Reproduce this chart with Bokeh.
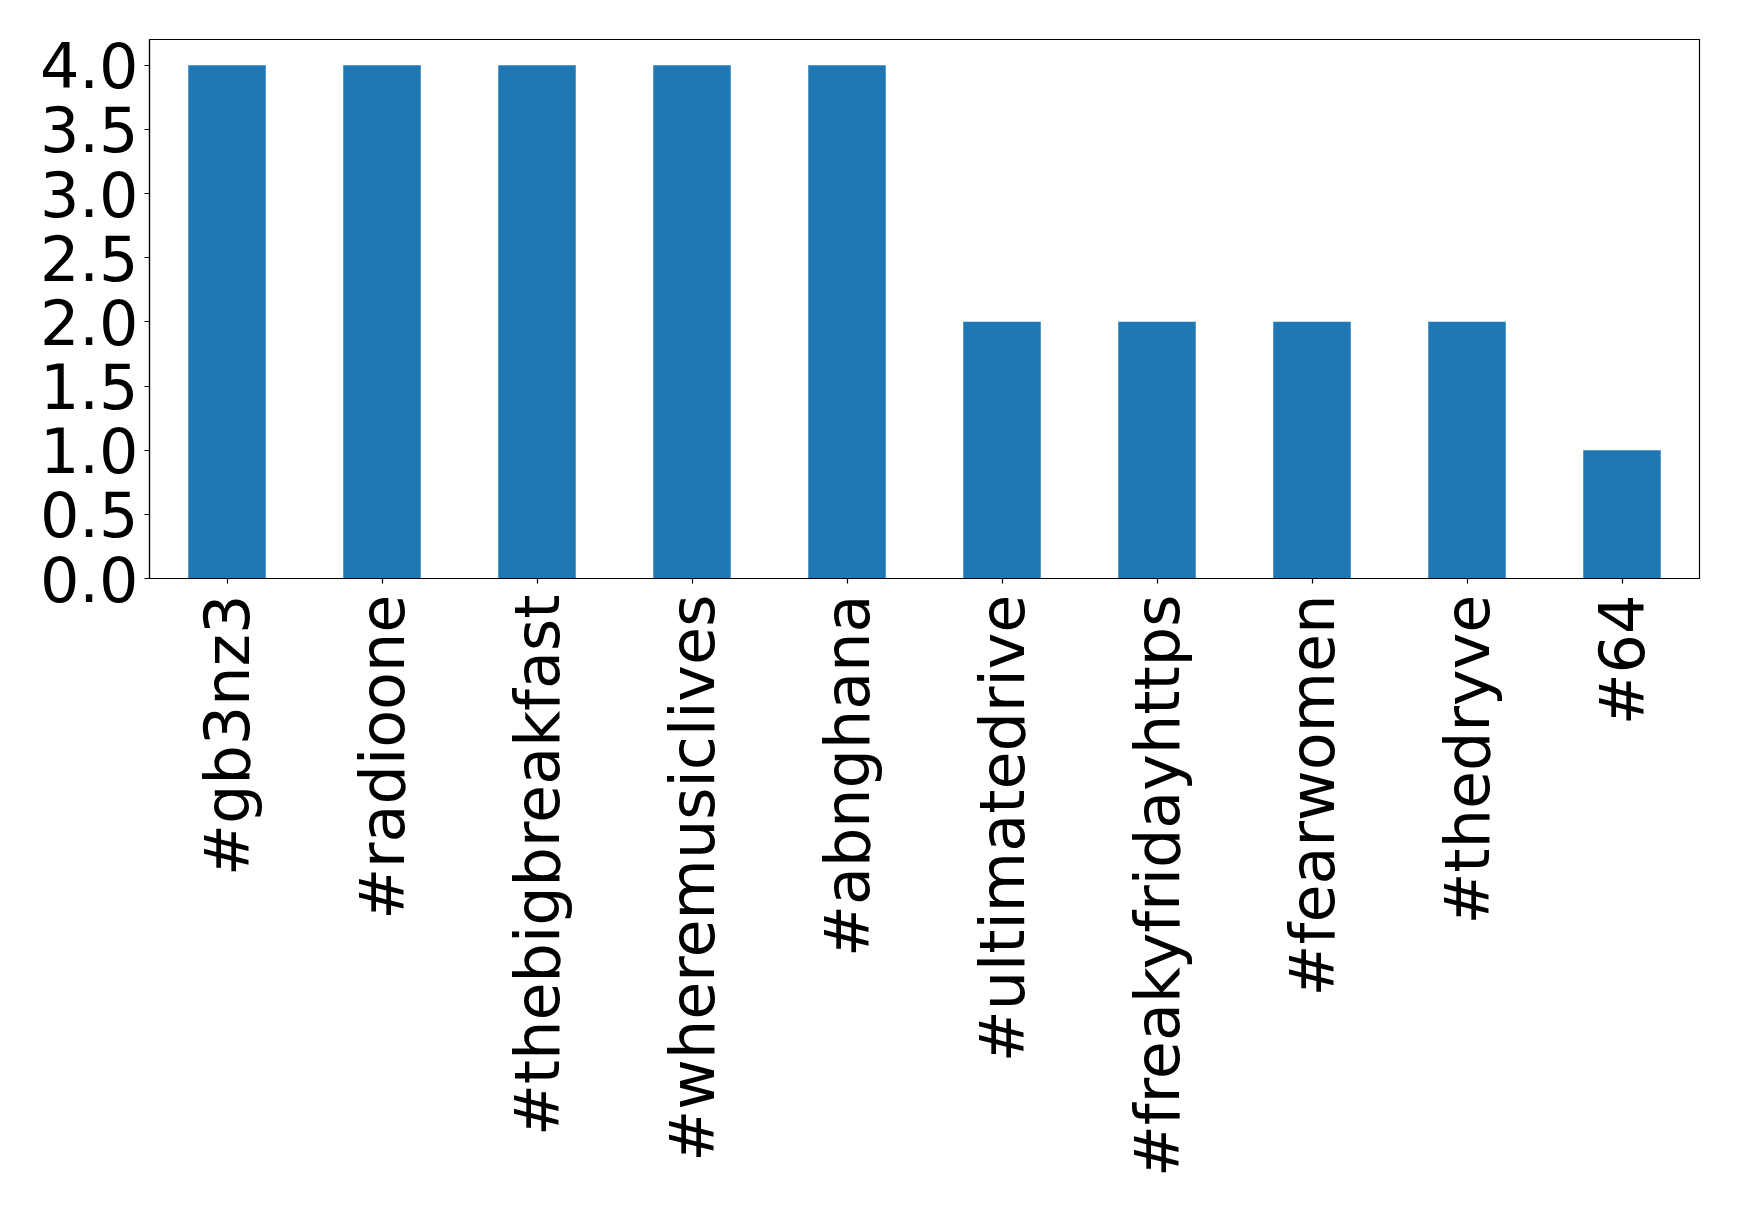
import math
from bokeh.plotting import figure
from bokeh.models import Range1d, FixedTicker, PrintfTickFormatter, ColumnDataSource
from bokeh.embed import file_html
from bokeh.resources import INLINE

hashtags = ["#gb3nz3", "#radioone", "#thebigbreakfast", "#wheremusiclives",
            "#abnghana", "#ultimatedrive", "#freakyfridayhttps", "#fearwomen", "#thedryve", "#64"]
counts = [4, 4, 4, 4, 4, 2, 2, 2, 2, 1]
y_ticks = [0.0, 0.5, 1.0, 1.5, 2.0, 2.5, 3.0, 3.5, 4.0]

src = ColumnDataSource(dict(tag=hashtags, count=counts))

p = figure(x_range=hashtags, y_range=Range1d(0, 4.2),
           width=1731, height=1199,
           frame_width=1550, frame_height=539,
           min_border_left=149, min_border_top=39, min_border_right=32, min_border_bottom=621,
           output_backend="svg", toolbar_location=None)

p.vbar(x="tag", top="count", width=0.5, source=src, color="#1f77b4", line_color=None)

p.xgrid.visible = False
p.ygrid.visible = False
p.outline_line_color = "black"
p.outline_line_alpha = 1.0
p.outline_line_width = 1.2
p.background_fill_color = "white"
p.border_fill_color = "white"

for ax in (p.xaxis[0], p.yaxis[0]):
    ax.major_label_text_font = "DejaVu Sans"
    ax.major_label_text_font_size = "62px"
    ax.major_label_text_color = "black"
    ax.axis_line_color = "black"
    ax.axis_line_width = 1.2
    ax.major_tick_line_color = "black"
    ax.major_tick_line_width = 1.2
    ax.major_tick_out = 5
    ax.major_tick_in = 0
    ax.minor_tick_line_color = None

p.yaxis.major_label_standoff = 6
p.yaxis.ticker = FixedTicker(ticks=y_ticks)
p.yaxis.formatter = PrintfTickFormatter(format="%.1f")
p.xaxis.major_label_orientation = math.pi / 2
p.xaxis.major_label_standoff = 11
p.x_range.range_padding = 0

open("out.html", "w").write(file_html(p, INLINE))
